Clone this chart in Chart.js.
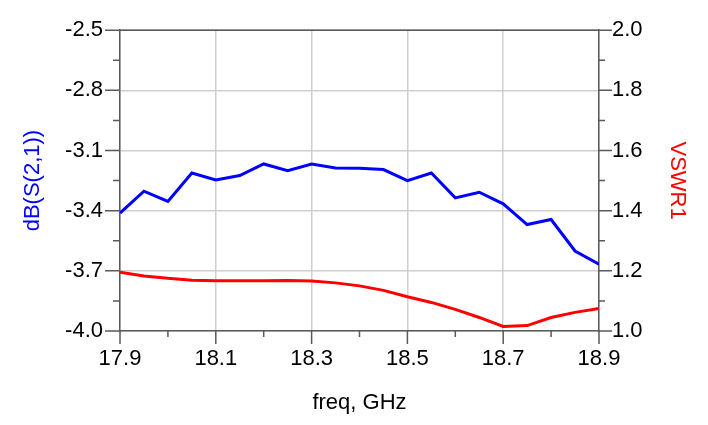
<!DOCTYPE html>
<html>
<head>
<meta charset="utf-8">
<script src="https://cdn.jsdelivr.net/npm/chart.js@4.4.1/dist/chart.umd.min.js"></script>
<style>
  html, body { margin: 0; padding: 0; background: #fff; }
  #wrap { width: 708px; height: 425px; }
</style>
</head>
<body>
<div id="wrap"><canvas id="chart"></canvas></div>
<script>
// frequency sweep, GHz
const freq = [17.9, 17.95, 18.0, 18.05, 18.1, 18.15, 18.2, 18.25, 18.3, 18.35, 18.4,
              18.45, 18.5, 18.55, 18.6, 18.65, 18.7, 18.75, 18.8, 18.85, 18.9];
// dB(S(2,1)) - left axis
const dbS21 = [-3.412, -3.303, -3.354, -3.212, -3.247, -3.225, -3.167, -3.200, -3.167, -3.187, -3.188,
               -3.195, -3.250, -3.212, -3.336, -3.308, -3.366, -3.469, -3.444, -3.601, -3.667];
// VSWR1 - right axis
const vswr1 = [1.195, 1.183, 1.175, 1.169, 1.167, 1.167, 1.167, 1.168, 1.166, 1.160, 1.150,
               1.135, 1.114, 1.095, 1.072, 1.045, 1.015, 1.018, 1.045, 1.062, 1.075];

const xTicks = [17.9, 18.1, 18.3, 18.5, 18.7, 18.9];
const xMinor = [18.0, 18.2, 18.4, 18.6, 18.8];
const leftTicks = [-4.0, -3.7, -3.4, -3.1, -2.8, -2.5];
const leftMinor = [-3.85, -3.55, -3.25, -2.95, -2.65];
const rightTicks = [1.0, 1.2, 1.4, 1.6, 1.8, 2.0];
const rightMinor = [1.1, 1.3, 1.5, 1.7, 1.9];

const AXIS = '#5a5a5a';
const GRID = '#cfcfcf';
const FONT = "'Liberation Sans', Arial, sans-serif";

const setTicks = list => scale => { scale.ticks = list.map(v => ({ value: v })); };

// axis tick marks (major + minor) and top frame line
const tickMarks = {
    id: 'tickMarks',
    afterDraw(chart) {
        const { ctx, chartArea: a, scales } = chart;
        ctx.save();
        ctx.strokeStyle = AXIS;
        ctx.lineWidth = 1.5;
        ctx.beginPath();
        ctx.moveTo(a.left, a.top);
        ctx.lineTo(a.right, a.top);
        xTicks.forEach(v => { const p = scales.x.getPixelForValue(v); ctx.moveTo(p, a.bottom); ctx.lineTo(p, a.bottom + 13); });
        xMinor.forEach(v => { const p = scales.x.getPixelForValue(v); ctx.moveTo(p, a.bottom); ctx.lineTo(p, a.bottom + 6); });
        leftTicks.forEach(v => { const p = scales.y.getPixelForValue(v); ctx.moveTo(a.left - 15, p); ctx.lineTo(a.left, p); });
        leftMinor.forEach(v => { const p = scales.y.getPixelForValue(v); ctx.moveTo(a.left - 7, p); ctx.lineTo(a.left, p); });
        rightTicks.forEach(v => { const p = scales.y1.getPixelForValue(v); ctx.moveTo(a.right, p); ctx.lineTo(a.right + 13, p); });
        rightMinor.forEach(v => { const p = scales.y1.getPixelForValue(v); ctx.moveTo(a.right, p); ctx.lineTo(a.right + 6, p); });
        ctx.stroke();
        ctx.restore();
    }
};

new Chart(document.getElementById('chart'), {
    type: 'line',
    data: {
        datasets: [{
            label: 'dB(S(2,1))',
            data: freq.map((f, i) => ({ x: f, y: dbS21[i] })),
            borderColor: '#0000ff',
            borderWidth: 3,
            pointRadius: 0,
            tension: 0,
            yAxisID: 'y'
        }, {
            label: 'VSWR1',
            data: freq.map((f, i) => ({ x: f, y: vswr1[i] })),
            borderColor: '#ff0000',
            borderWidth: 3,
            pointRadius: 0,
            tension: 0,
            yAxisID: 'y1'
        }]
    },
    options: {
        responsive: true,
        maintainAspectRatio: false,
        animation: false,
        layout: { padding: { top: 29, left: 0, right: 0, bottom: 0 } },
        plugins: { legend: { display: false }, tooltip: { enabled: false } },
        scales: {
            x: {
                type: 'linear',
                min: 17.9, max: 18.9,
                afterBuildTicks: setTicks(xTicks),
                afterFit: s => { s.height = 94; },
                grid: { color: GRID, lineWidth: 1.5, drawTicks: false },
                border: { color: AXIS, width: 1.5 },
                ticks: { color: '#000', padding: 15, font: { family: FONT, size: 22 }, callback: v => v.toFixed(1) },
                title: { display: true, text: 'freq, GHz', color: '#000', font: { family: FONT, size: 22 }, padding: { bottom: 9 } }
            },
            y: {
                position: 'left',
                min: -4.0, max: -2.5,
                afterBuildTicks: setTicks(leftTicks),
                afterFit: s => { s.width = 120; },
                grid: { color: GRID, lineWidth: 1.5, drawTicks: false },
                border: { color: AXIS, width: 1.5 },
                ticks: { color: '#000', padding: 17, font: { family: FONT, size: 22 }, callback: v => v.toFixed(1) },
                title: { display: true, text: 'dB(S(2,1))', color: '#0000ff', font: { family: FONT, size: 22 }, padding: { top: 20 } }
            },
            y1: {
                position: 'right',
                min: 1.0, max: 2.0,
                afterBuildTicks: setTicks(rightTicks),
                afterFit: s => { s.width = 109; },
                grid: { display: false, drawTicks: false },
                border: { color: AXIS, width: 1.5 },
                ticks: { color: '#000', padding: 13, font: { family: FONT, size: 22 }, callback: v => v.toFixed(1) },
                title: { display: true, text: 'VSWR1', color: '#ff0000', font: { family: FONT, size: 22 }, padding: { top: 18 } }
            }
        }
    },
    plugins: [tickMarks]
});
</script>
</body>
</html>
